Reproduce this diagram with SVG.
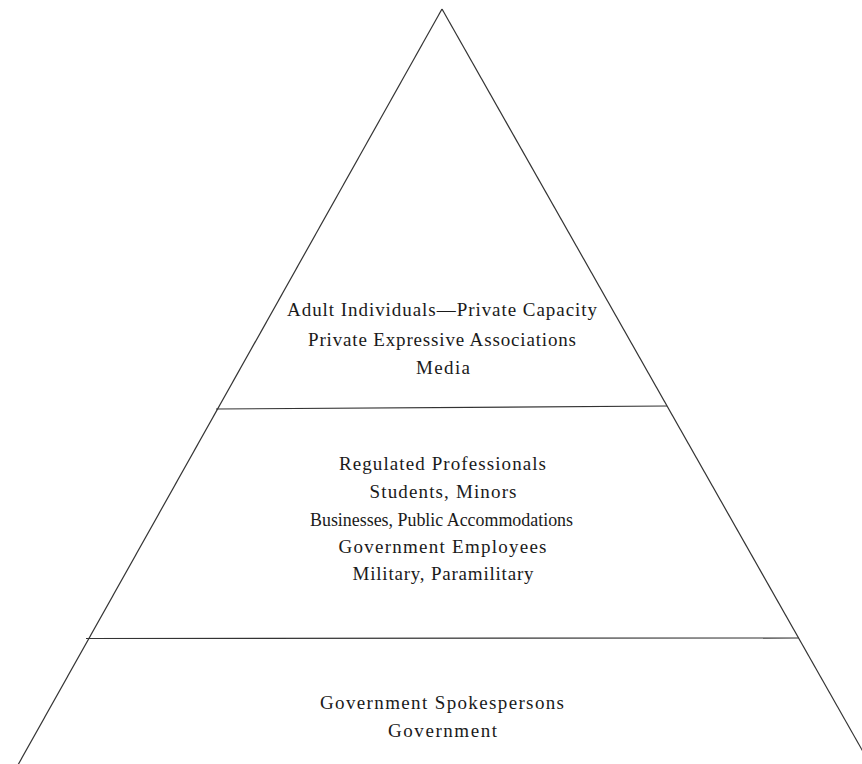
<svg xmlns="http://www.w3.org/2000/svg" width="862" height="764" viewBox="0 0 862 764">
  <style>
    .edge { stroke: #333; stroke-width: 1.2; fill: none; }
    .lbl { font-family: "Liberation Serif", "Times New Roman", serif; font-size: 19px; fill: #1a1a1a; text-anchor: middle; }
  </style>
  <rect width="862" height="764" fill="#ffffff"/>
  <g id="pyramid-outline">
    <line class="edge" x1="442" y1="9" x2="14" y2="772"/>
    <line class="edge" x1="442" y1="9" x2="870" y2="764"/>
    <line class="edge" x1="216" y1="409" x2="667" y2="406"/>
    <line class="edge" x1="86" y1="638.5" x2="798.5" y2="638"/>
  </g>
  <g id="tier-top">
    <text class="lbl" x="442" y="316" textLength="310" lengthAdjust="spacing">Adult Individuals—Private Capacity</text>
    <text class="lbl" x="442" y="345.5" textLength="268" lengthAdjust="spacing">Private Expressive Associations</text>
    <text class="lbl" x="443" y="374" textLength="54" lengthAdjust="spacing">Media</text>
  </g>
  <g id="tier-middle">
    <text class="lbl" x="442.5" y="469.5" textLength="207" lengthAdjust="spacing">Regulated Professionals</text>
    <text class="lbl" x="443" y="497.5" textLength="147" lengthAdjust="spacing">Students, Minors</text>
    <text class="lbl" x="441.5" y="525.5" textLength="263" lengthAdjust="spacingAndGlyphs">Businesses, Public Accommodations</text>
    <text class="lbl" x="442.5" y="553" textLength="208" lengthAdjust="spacing">Government Employees</text>
    <text class="lbl" x="443" y="580" textLength="181" lengthAdjust="spacing">Military, Paramilitary</text>
  </g>
  <g id="tier-bottom">
    <text class="lbl" x="442" y="709" textLength="244" lengthAdjust="spacing">Government Spokespersons</text>
    <text class="lbl" x="442.5" y="737" textLength="109" lengthAdjust="spacing">Government</text>
  </g>
</svg>
